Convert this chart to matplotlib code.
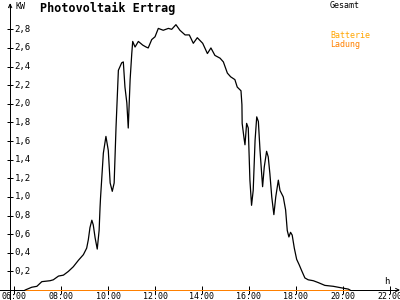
import matplotlib
matplotlib.use("Agg")
import matplotlib.pyplot as plt

# Gesamt (kW) over time of day (hours)
hours = [6.47, 6.75, 6.97, 7.18, 7.53, 7.67, 7.89, 8.10, 8.31, 8.52, 8.74, 8.95,
         9.09, 9.16, 9.23, 9.31, 9.37, 9.45, 9.54, 9.62, 9.66, 9.68, 9.80, 9.91,
         10.01, 10.09, 10.18, 10.26, 10.34, 10.44, 10.58, 10.65, 10.72, 10.80,
         10.86, 10.94, 11.01, 11.05, 11.15, 11.29, 11.48, 11.62, 11.71, 11.86,
         12.00, 12.14, 12.35, 12.57, 12.71, 12.89, 13.06, 13.28, 13.46, 13.63,
         13.80, 14.03, 14.23, 14.38, 14.55, 14.77, 14.91, 15.08, 15.22, 15.40,
         15.50, 15.66, 15.70, 15.71, 15.79, 15.83, 15.90, 15.97, 16.04, 16.11,
         16.18, 16.26, 16.33, 16.40, 16.47, 16.54, 16.58, 16.65, 16.75, 16.82,
         16.89, 16.97, 17.06, 17.14, 17.25, 17.32, 17.46, 17.56, 17.63, 17.70,
         17.77, 17.84, 17.93, 18.03, 18.14, 18.24, 18.38, 18.52, 18.74, 18.95,
         19.23, 19.59, 20.01, 20.23, 20.30]
gesamt = [0.00, 0.03, 0.04, 0.09, 0.10, 0.11, 0.15, 0.16, 0.20, 0.25, 0.32, 0.38,
          0.45, 0.54, 0.67, 0.75, 0.70, 0.56, 0.44, 0.64, 0.89, 0.99, 1.47, 1.65,
          1.50, 1.15, 1.06, 1.15, 1.75, 2.36, 2.44, 2.45, 2.18, 2.01,
          1.74, 2.26, 2.54, 2.67, 2.61, 2.67, 2.63, 2.61, 2.60, 2.69,
          2.72, 2.81, 2.79, 2.81, 2.80, 2.85, 2.79, 2.74, 2.74, 2.65,
          2.71, 2.65, 2.54, 2.60, 2.52, 2.49, 2.45, 2.33, 2.29, 2.26,
          2.18, 2.14, 1.99, 1.79, 1.63, 1.56, 1.79, 1.74, 1.18, 0.91,
          1.07, 1.61, 1.86, 1.81, 1.50, 1.25, 1.11, 1.32, 1.49, 1.43,
          1.25, 1.00, 0.81, 1.00, 1.18, 1.07, 1.00, 0.86, 0.64, 0.57,
          0.62, 0.59, 0.45, 0.33, 0.27, 0.21, 0.13, 0.11, 0.10, 0.08,
          0.05, 0.04, 0.02, 0.01, 0.00]

# Batterie Ladung stays at zero
bat_hours = [6.47, 20.25]
bat_ladung = [0.0, 0.0]

xticks = [6, 8, 10, 12, 14, 16, 18, 20, 22]
xlabels = ["06:00", "08:00", "10:00", "12:00", "14:00", "16:00", "18:00", "20:00", "22:00"]
yticks = [0.2, 0.4, 0.6, 0.8, 1.0, 1.2, 1.4, 1.6, 1.8, 2.0, 2.2, 2.4, 2.6, 2.8]
ylabels = ["0,2", "0,4", "0,6", "0,8", "1,0", "1,2", "1,4", "1,6", "1,8",
           "2,0", "2,2", "2,4", "2,6", "2,8"]

mono = "DejaVu Sans Mono"

fig = plt.figure(figsize=(4, 3), dpi=100)
ax = fig.add_axes([0, 0, 1, 1])
ax.set_xlim(5.4, 22.43)
ax.set_ylim(-0.107, 3.115)
ax.set_axis_off()

y_axis_x = 5.83

# axes with arrows
ax.plot([5.4, 22.35], [0, 0], color="black", lw=0.72, antialiased=False)
ax.plot([y_axis_x, y_axis_x], [-0.107, 3.07], color="black", lw=0.72, antialiased=False)
ax.annotate("", xy=(22.43, 0), xytext=(22.2, 0),
            arrowprops=dict(arrowstyle="->", color="black", lw=0.7, mutation_scale=6))
ax.annotate("", xy=(y_axis_x, 3.11), xytext=(y_axis_x, 3.0),
            arrowprops=dict(arrowstyle="->", color="black", lw=0.7, mutation_scale=6))

# ticks
ax.plot([y_axis_x] * len(yticks), yticks, ls="none", marker="_", ms=5,
        mew=0.72, color="black")
ax.plot(xticks, [0] * len(xticks), ls="none", marker="|", ms=6,
        mew=0.72, color="black")
for v, lab in zip(yticks, ylabels):
    ax.text(y_axis_x + 0.2, v, lab, fontsize=6.5, family=mono,
            ha="left", va="center")
for v, lab in zip(xticks, xlabels):
    ax.text(v, -0.02, lab, fontsize=6, family=mono, ha="center", va="top")

ax.plot(bat_hours, bat_ladung, color="#ff8000", lw=0.72, antialiased=False)
ax.plot(hours, gesamt, color="black", lw=0.9)

fig.text(15 / 400, 1 - 2 / 300, "KW", fontsize=6, family=mono, ha="left", va="top")
fig.text(387 / 400, 1 - 281 / 300, "h", fontsize=6.5, family=mono, ha="center", va="center")
fig.text(40 / 400, 1 - 8 / 300, "Photovoltaik Ertrag", fontsize=8.5, family=mono,
         weight="bold", ha="left", va="center")
fig.text(330 / 400, 1 - 5 / 300, "Gesamt", fontsize=6, family=mono,
         color="black", ha="left", va="center")
fig.text(330 / 400, 1 - 36 / 300, "Batterie", fontsize=6, family=mono,
         color="#ffa500", ha="left", va="center")
fig.text(330 / 400, 1 - 44 / 300, "Ladung", fontsize=6, family=mono,
         color="#ff8000", ha="left", va="center")

fig.savefig("out.png", dpi=100, facecolor="white")
